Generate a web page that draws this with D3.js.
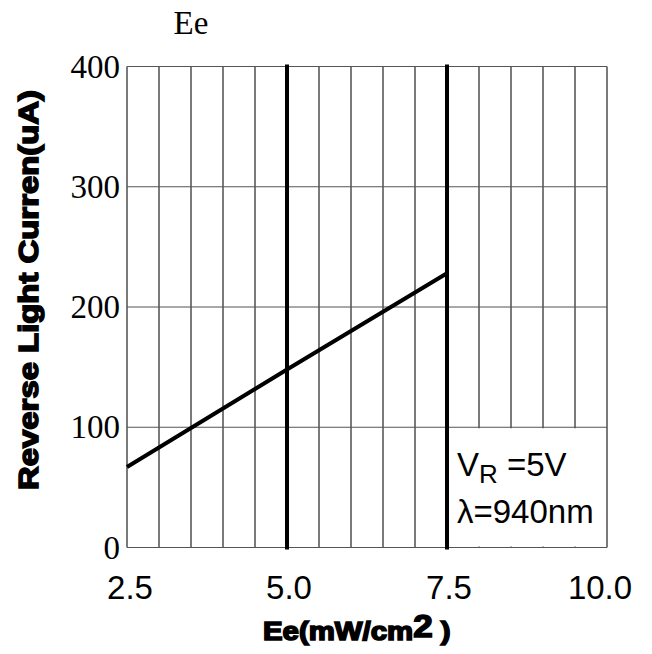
<html>
<head>
  <meta charset="utf-8">
  <title>Reverse Light Current vs Ee</title>
</head>
<style>
  body {
    margin: 0;
    background: #fff;
  }
  .tick-x, .note {
    font-family: 'Liberation Sans', Arial, sans-serif;
    font-size: 33px;
  }
  .heavy {
    font-family: 'Liberation Sans', Arial, sans-serif;
    font-weight: bold;
    stroke: #000;
    stroke-width: 1.6px;
  }
</style>
<body>
  <div id="chart"></div>
</body>
<script src="https://cdn.jsdelivr.net/npm/d3@7"></script>
<script>
  // data
  const ee = [2.5, 5.0, 7.5]
  const current = [67, 148, 228]
  const xTicks = [2.5, 5.0, 7.5, 10.0]
  const yTicks = [0, 100, 200, 300, 400]
  const markLines = [5.0, 7.5]
  const gridX = d3.range(2.5, 10.01, 0.5)

  const W = 652, H = 654
  const serif = "'Liberation Serif', 'Times New Roman', 'DejaVu Serif', serif"
  const x = d3.scaleLinear().domain([2.5, 10]).range([127, 607])
  const y = d3.scaleLinear().domain([0, 400]).range([547.5, 66.5])

  const svg = d3.select("#chart").append("svg")
    .attr("width", W)
    .attr("height", H)

  //grid
  svg.append("g").selectAll("line").data(gridX).join("line")
    .attr("x1", d => x(d)).attr("x2", d => x(d))
    .attr("y1", y(400)).attr("y2", y(0))
    .attr("stroke", "#222").attr("stroke-width", 1.2)
  svg.append("g").selectAll("line").data(yTicks).join("line")
    .attr("x1", x(2.5)).attr("x2", x(10))
    .attr("y1", d => y(d)).attr("y2", d => y(d))
    .attr("stroke", "#555").attr("stroke-width", 1.2)

  // box behind the note hides the grid
  svg.append("rect")
    .attr("x", x(7.5)).attr("y", y(100) + 1)
    .attr("width", x(10) - x(7.5) - 1).attr("height", y(0) - y(100) - 2)
    .attr("fill", "#fff")

  //thick markers
  svg.append("g").selectAll("line").data(markLines).join("line")
    .attr("x1", d => x(d)).attr("x2", d => x(d))
    .attr("y1", y(400) - 2).attr("y2", y(0) + 2)
    .attr("stroke", "#000").attr("stroke-width", 4)

  //data line
  const line = d3.line().x(d => x(d[0])).y(d => y(d[1]))
  svg.append("path")
    .datum(ee.map((v, i) => [v, current[i]]))
    .attr("d", line)
    .attr("fill", "none")
    .attr("stroke", "#000")
    .attr("stroke-width", 4)

  //tick labels
  svg.append("g").selectAll("text").data(yTicks).join("text")
    .attr("font-family", serif)
    .attr("font-size", "33px")
    .attr("x", 120)
    .attr("y", d => y(d))
    .attr("dy", "0.34em")
    .attr("text-anchor", "end")
    .text(d => d)
  svg.append("g").selectAll("text").data(xTicks).join("text")
    .attr("class", "tick-x")
    .attr("x", d => x(d) + (d == 10 ? -7 : d == 2.5 ? 3 : 2))
    .attr("y", 599)
    .attr("text-anchor", "middle")
    .text(d => d.toFixed(1))

  //top label
  svg.append("text")
    .attr("font-family", serif)
    .attr("font-size", "33px")
    .attr("x", 191).attr("y", 34)
    .attr("text-anchor", "middle")
    .text("Ee")

  //axis titles
  const xt = svg.append("text")
    .attr("class", "heavy")
    .attr("transform", "translate(263,640) scale(1.13,1)")
    .attr("font-size", "26px")
  xt.append("tspan").text("Ee(mW/cm")
  xt.append("tspan").attr("font-size", "31px").attr("dy", -3).text("2")
  xt.append("tspan").attr("dy", 3).text(" )")

  svg.append("text")
    .attr("class", "heavy")
    .attr("transform", "translate(38,290) rotate(-90)")
    .attr("text-anchor", "middle")
    .attr("font-size", "28px")
    .attr("textLength", 400)
    .attr("lengthAdjust", "spacingAndGlyphs")
    .text("Reverse Light Curren(uA)")

  //note
  const n1 = svg.append("text").attr("class", "note")
    .attr("x", 457).attr("y", 476)
  n1.append("tspan").text("V")
  n1.append("tspan").attr("font-size", "26px").attr("dy", 7).text("R")
  n1.append("tspan").attr("dy", -7).text(" =5V")
  svg.append("text").attr("class", "note")
    .attr("x", 457).attr("y", 523)
    .text("λ=940nm")
</script>
</html>
